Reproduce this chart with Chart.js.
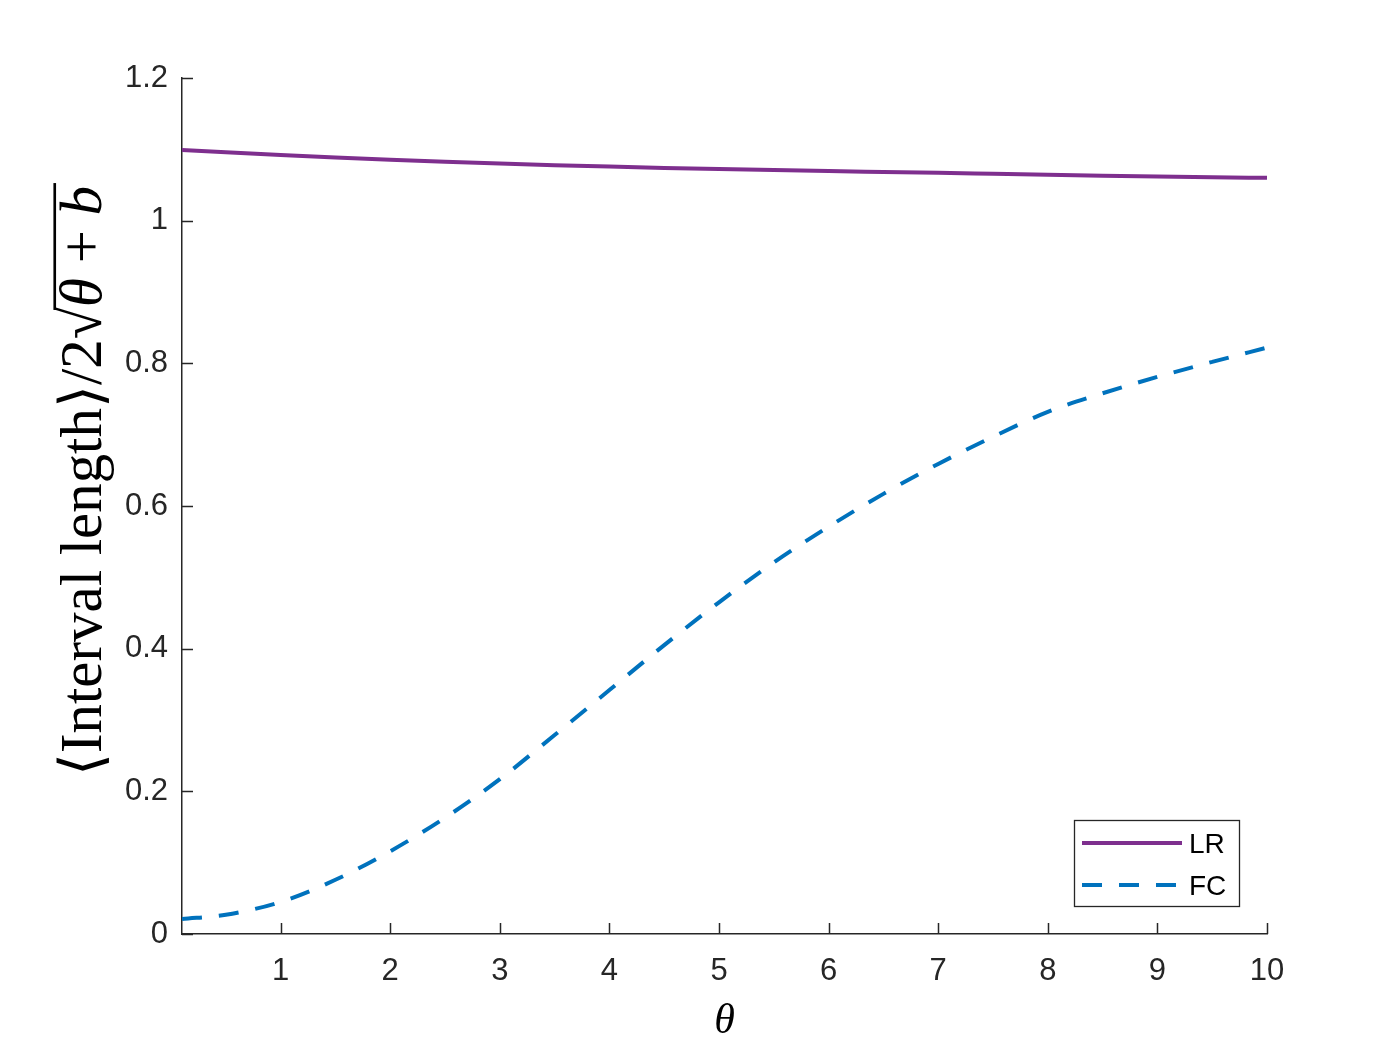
<!DOCTYPE html>
<html>
<head>
<meta charset="utf-8">
<script src="https://cdn.jsdelivr.net/npm/chart.js@4/dist/chart.umd.min.js"></script>
<style>
  html, body { margin: 0; padding: 0; background: #fff; }
  #wrap { width: 1400px; height: 1050px; }
</style>
</head>
<body>
<div id="wrap"><canvas id="c" width="1400" height="1050"></canvas></div>
<script>
// values
const theta = [0.1, 0.5, 1, 1.5, 2, 2.5, 3, 3.5, 4, 4.5, 5, 5.5, 6, 6.5, 7, 7.5, 8, 8.5, 9, 9.5, 10];
const lrValues = [1.0990, 1.0958, 1.0920, 1.0885, 1.0853, 1.0825, 1.0800, 1.0778, 1.0758, 1.0740, 1.0724, 1.0709, 1.0695, 1.0683, 1.0671, 1.0657, 1.0643, 1.0630, 1.0619, 1.0609, 1.0600];
const fcValues = [0.021, 0.027, 0.045, 0.076, 0.116, 0.163, 0.217, 0.279, 0.342, 0.405, 0.465, 0.521, 0.571, 0.617, 0.659, 0.697, 0.732, 0.758, 0.781, 0.802, 0.822];
const xTicks = [1, 2, 3, 4, 5, 6, 7, 8, 9, 10];
const yTicks = [0, 0.2, 0.4, 0.6, 0.8, 1, 1.2];
const seriesNames = ['LR', 'FC'];

const axisColor = '#262626';

const pts = (ys) => theta.map((x, i) => ({ x: x, y: ys[i] }));

// MATLAB style ticks pointing into the axes
const inwardTicks = {
  id: 'inwardTicks',
  afterDatasetsDraw(chart) {
    const ctx = chart.ctx;
    const { x, y } = chart.scales;
    ctx.save();
    ctx.strokeStyle = axisColor;
    ctx.lineWidth = 1.5;
    ctx.beginPath();
    x.ticks.forEach((t) => {
      const px = Math.round(x.getPixelForValue(t.value)) + 0.5;
      ctx.moveTo(px, y.bottom);
      ctx.lineTo(px, y.bottom - 11);
    });
    y.ticks.forEach((t) => {
      const py = Math.round(y.getPixelForValue(t.value)) + 0.5;
      ctx.moveTo(x.left, py);
      ctx.lineTo(x.left + 11, py);
    });
    ctx.stroke();
    ctx.restore();
  }
};

// legend box in the lower right corner of the axes
const boxLegend = {
  id: 'boxLegend',
  afterDraw(chart) {
    const ctx = chart.ctx;
    const area = chart.chartArea;
    const w = 165, h = 86;
    const left = area.right - 28 - w;
    const top = area.bottom - 28 - h;
    ctx.save();
    ctx.fillStyle = '#fff';
    ctx.fillRect(left, top, w, h);
    ctx.strokeStyle = axisColor;
    ctx.lineWidth = 1.3;
    ctx.strokeRect(left + 0.5, top + 0.5, w, h);
    chart.data.datasets.forEach((ds, i) => {
      const cy = top + 23 + i * 42;
      ctx.strokeStyle = ds.borderColor;
      ctx.lineWidth = ds.borderWidth;
      ctx.setLineDash(ds.borderDash || []);
      ctx.beginPath();
      ctx.moveTo(left + 8, cy);
      ctx.lineTo(left + 108, cy);
      ctx.stroke();
      ctx.setLineDash([]);
      ctx.fillStyle = '#000';
      ctx.font = '28px "Liberation Sans", Arial, sans-serif';
      ctx.textBaseline = 'middle';
      ctx.textAlign = 'left';
      ctx.fillText(ds.label, left + 115, cy + 2);
    });
    ctx.restore();
  }
};

// y label: <Interval length>/2 sqrt(theta + b)
const yLabel = {
  id: 'yLabel',
  afterDraw(chart) {
    const ctx = chart.ctx;
    const area = chart.chartArea;
    const fam = '"Liberation Serif", "DejaVu Serif", serif';
    const size = 40;
    const parts = [
      { t: '\u27E8Interval length\u27E9/2', f: size + 'px ' + fam },
      { t: '\u221A', f: size + 'px ' + fam },
      { t: '\u03B8', f: 'italic ' + size + 'px ' + fam, over: true },
      { t: ' + ', f: size + 'px ' + fam, over: true },
      { t: 'b', f: 'italic ' + size + 'px ' + fam, over: true }
    ];
    ctx.save();
    let total = 0;
    parts.forEach((p) => { ctx.font = p.f; p.w = ctx.measureText(p.t).width; total += p.w; });
    const scale = 590 / total;
    ctx.translate(83, (area.top + area.bottom) / 2 - 25);
    ctx.rotate(-Math.PI / 2);
    ctx.scale(scale, scale);
    ctx.fillStyle = '#000';
    ctx.textBaseline = 'alphabetic';
    ctx.textAlign = 'left';
    let xpos = -total / 2;
    let overStart = null;
    parts.forEach((p) => {
      ctx.font = p.f;
      ctx.fillText(p.t, xpos, 12);
      if (p.over && overStart === null) overStart = xpos;
      xpos += p.w;
    });
    ctx.strokeStyle = '#000';
    ctx.lineWidth = 1.8;
    ctx.beginPath();
    ctx.moveTo(overStart - 2, 12 - size * 0.78);
    ctx.lineTo(xpos + 2, 12 - size * 0.78);
    ctx.stroke();
    ctx.restore();
  }
};

new Chart(document.getElementById('c'), {
  type: 'line',
  data: {
    datasets: [
      {
        label: seriesNames[0],
        data: pts(lrValues),
        borderColor: '#7E2F8E',
        borderWidth: 4,
        pointRadius: 0,
        cubicInterpolationMode: 'monotone',
        fill: false
      },
      {
        label: seriesNames[1],
        data: pts(fcValues),
        borderColor: '#0072BD',
        borderWidth: 4,
        borderDash: [20, 17],
        pointRadius: 0,
        cubicInterpolationMode: 'monotone',
        fill: false
      }
    ]
  },
  options: {
    responsive: false,
    animation: false,
    layout: { padding: { top: 78, right: 133, left: 0, bottom: 0 } },
    plugins: { legend: { display: false }, tooltip: { enabled: false } },
    scales: {
      x: {
        type: 'linear',
        min: 0.1,
        max: 10,
        afterBuildTicks: (s) => { s.ticks = xTicks.map((v) => ({ value: v })); },
        afterFit: (s) => { s.height = 116; },
        grid: { display: false, drawTicks: false },
        border: { display: true, color: axisColor, width: 1.5 },
        ticks: {
          color: axisColor,
          font: { family: '"Liberation Sans", Arial, sans-serif', size: 31 },
          padding: 19,
          maxRotation: 0,
          autoSkip: false
        },
        title: {
          display: true,
          text: '\u03B8',
          color: '#000',
          font: { family: '"Liberation Serif", "DejaVu Serif", serif', size: 42, style: 'italic' },
          padding: { top: 0, bottom: 3 }
        }
      },
      y: {
        type: 'linear',
        min: 0,
        max: 1.2,
        afterBuildTicks: (s) => { s.ticks = yTicks.map((v) => ({ value: v })); },
        afterFit: (s) => { s.width = 182; },
        grid: { display: false, drawTicks: false },
        border: { display: true, color: axisColor, width: 1.5 },
        ticks: {
          color: axisColor,
          font: { family: '"Liberation Sans", Arial, sans-serif', size: 31 },
          padding: 14,
          callback: (v) => String(Math.round(v * 10) / 10)
        }
      }
    }
  },
  plugins: [inwardTicks, boxLegend, yLabel]
});
</script>
</body>
</html>
